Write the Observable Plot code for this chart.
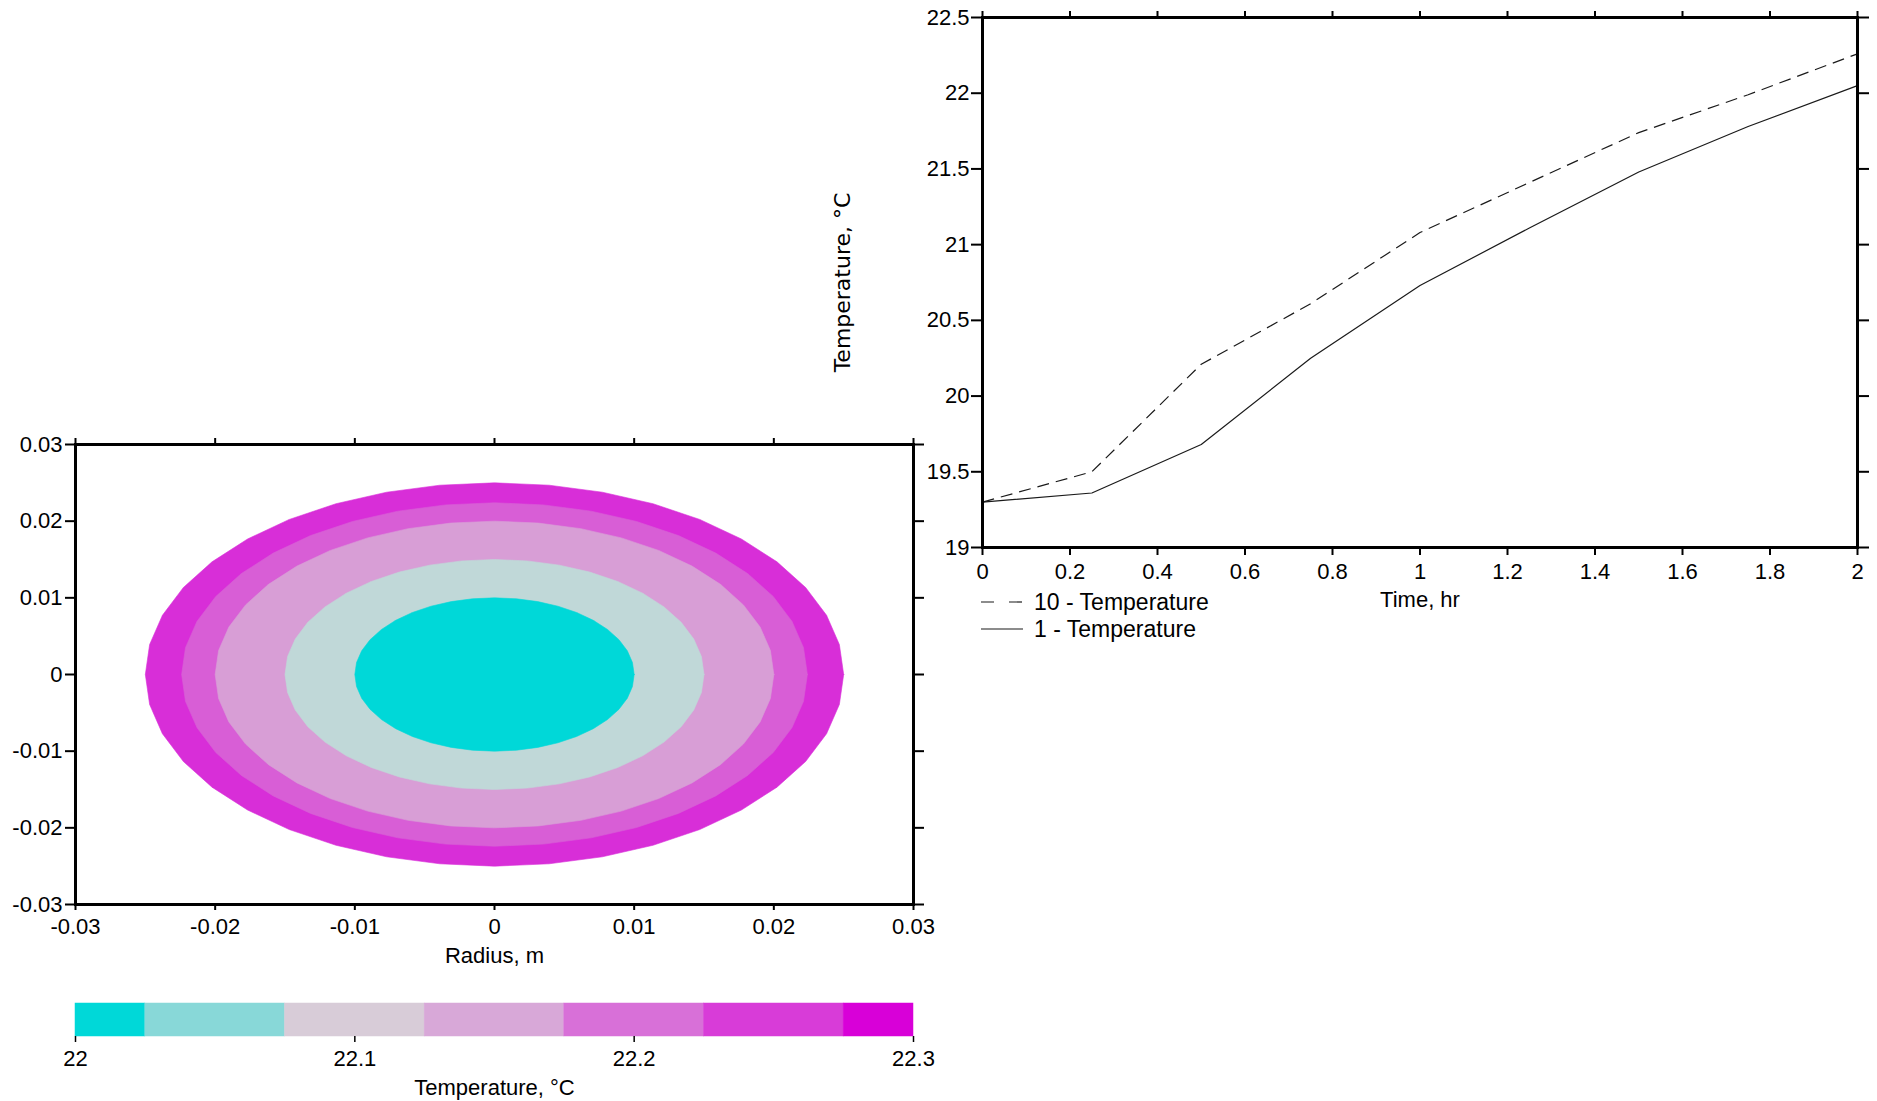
<!DOCTYPE html>
<html><head><meta charset="utf-8">
<script src="https://cdn.jsdelivr.net/npm/d3@7"></script>
<script src="https://cdn.jsdelivr.net/npm/@observablehq/plot@0.6"></script>
<style>
body{margin:0;background:#fff;}
#root{position:relative;width:1877px;height:1101px;overflow:hidden;font-family:"Liberation Sans",Arial,sans-serif;color:#000;}
.leg{position:absolute;display:flex;align-items:center;height:28px;font-size:23px;white-space:nowrap;}
.leg span{margin-left:11px;}
</style></head><body><div id="root"></div>
<script>
// ---------- data ----------
const radiusTicks = [-0.03, -0.02, -0.01, 0, 0.01, 0.02, 0.03];
const ringRadius = [0.025, 0.0224, 0.02, 0.015, 0.01];
const ringColors = ["#d82ed8", "#d85ed6", "#d89ed6", "#c0d8d8", "#00d8d8"];

const legendEdges = [22, 22.025, 22.075, 22.125, 22.175, 22.225, 22.275, 22.3];
const legendColors = ["#00d8d8", "#88d8d8", "#d8ccd8", "#d8a8d8", "#d870d8", "#d83cd8", "#d800d8"];
const legendTicks = [22, 22.1, 22.2, 22.3];

const timeHr = [0, 0.25, 0.5, 0.75, 1, 1.25, 1.5, 1.75, 2];
const temp10 = [19.30, 19.50, 20.21, 20.61, 21.08, 21.41, 21.74, 21.99, 22.26];
const temp1  = [19.30, 19.36, 19.68, 20.25, 20.73, 21.11, 21.48, 21.78, 22.05];
const timeTicks = [0, 0.2, 0.4, 0.6, 0.8, 1, 1.2, 1.4, 1.6, 1.8, 2];
const tempTicks = [19, 19.5, 20, 20.5, 21, 21.5, 22, 22.5];

// ---------- helpers ----------
const FONT = '"Liberation Sans", Arial, sans-serif';
const baseStyle = {fontFamily: FONT, fontSize: "22px", background: "transparent", overflow: "visible", color: "#000"};
const fmt = d => String(+d.toFixed(3));
const blank = () => "";
const SEGS = 40;
const root = document.getElementById("root");
function place(el, left, top) {
  el.style.position = "absolute";
  el.style.left = left + "px";
  el.style.top = top + "px";
  el.style.maxWidth = "none";
  root.appendChild(el);
}

// ---------- left: radial contour ----------
const ringMarks = ringRadius.map((r, i) => {
  const pts = d3.range(SEGS + 1).map(k => {
    const a = 2 * Math.PI * k / SEGS;
    return {x: r * Math.cos(a), y: r * Math.sin(a)};
  });
  return Plot.line(pts, {x: "x", y: "y", fill: ringColors[i], stroke: ringColors[i], strokeWidth: 0.6, curve: "linear-closed"});
});

const contour = Plot.plot({
  width: 940, height: 560,
  marginLeft: 75, marginRight: 27, marginTop: 24, marginBottom: 76,
  x: {domain: [-0.03, 0.03], label: null},
  y: {domain: [-0.03, 0.03], label: null},
  style: baseStyle,
  marks: [
    ...ringMarks,
    Plot.axisX(radiusTicks, {anchor: "bottom", tickSize: 6, tickPadding: 8, tickFormat: fmt, strokeWidth: 2, fontSize: 22, label: null}),
    Plot.axisX(radiusTicks, {anchor: "top", tickSize: 7, tickFormat: blank, strokeWidth: 2, label: null}),
    Plot.axisY(radiusTicks, {anchor: "left", tickSize: 10, tickPadding: 3, tickFormat: fmt, strokeWidth: 2, fontSize: 22, label: null}),
    Plot.axisY(radiusTicks, {anchor: "right", tickSize: 10, tickFormat: blank, strokeWidth: 2, label: null}),
    Plot.frame({stroke: "#000", strokeWidth: 3}),
    Plot.text(["Radius, m"], {text: d => d, frameAnchor: "bottom", dy: 51, lineAnchor: "middle", fontSize: 22})
  ]
});
place(contour, 0, 420);

// ---------- left: colour bar ----------
const bins = legendColors.map((c, i) => ({x1: legendEdges[i], x2: legendEdges[i + 1], c}));
const colorbar = Plot.plot({
  width: 940, height: 111,
  marginLeft: 75, marginRight: 27, marginTop: 13, marginBottom: 65,
  x: {domain: [22, 22.3], label: null},
  style: baseStyle,
  marks: [
    ...bins.map(b => Plot.rect([b], {x1: "x1", x2: "x2", fill: b.c, stroke: b.c, strokeWidth: 0.5})),
    Plot.axisX(legendTicks, {anchor: "bottom", tickSize: 6, tickPadding: 8, tickFormat: fmt, strokeWidth: 1.5, fontSize: 22, label: null}),
    Plot.text(["Temperature, °C"], {text: d => d, frameAnchor: "bottom", dy: 51, lineAnchor: "middle", fontSize: 22})
  ]
});
place(colorbar, 0, 990);

// ---------- right: temperature vs time ----------
const series = timeHr.map((t, i) => ({t, T10: temp10[i], T1: temp1[i]}));
const lineChart = Plot.plot({
  width: 1077, height: 660,
  marginLeft: 182, marginRight: 20, marginTop: 17, marginBottom: 113,
  x: {domain: [0, 2], label: null},
  y: {domain: [19, 22.5], label: null},
  style: baseStyle,
  marks: [
    Plot.line(series, {x: "t", y: "T10", stroke: "#1a1a1a", strokeWidth: 1.2, strokeDasharray: "12,7", strokeLinecap: "butt"}),
    Plot.line(series, {x: "t", y: "T1", stroke: "#1a1a1a", strokeWidth: 1.2}),
    Plot.axisX(timeTicks, {anchor: "bottom", tickSize: 8, tickPadding: 8, tickFormat: fmt, strokeWidth: 2, fontSize: 22, label: null}),
    Plot.axisX(timeTicks, {anchor: "top", tickSize: 7, tickFormat: blank, strokeWidth: 2, label: null}),
    Plot.axisY(tempTicks, {anchor: "left", tickSize: 11, tickPadding: 2, tickFormat: fmt, strokeWidth: 2, fontSize: 22, label: null}),
    Plot.axisY(tempTicks, {anchor: "right", tickSize: 11, tickFormat: blank, strokeWidth: 2, label: null}),
    Plot.frame({stroke: "#000", strokeWidth: 3}),
    Plot.text(["Time, hr"], {text: d => d, frameAnchor: "bottom", dy: 52, lineAnchor: "middle", fontSize: 22}),
    Plot.text(["Temperature, °C"], {text: d => d, frameAnchor: "left", dx: -140, rotate: -90, lineAnchor: "middle", textAnchor: "middle", fontSize: 22, fontFamily: '"DejaVu Sans", sans-serif'})
  ]
});
place(lineChart, 800, 0);

// ---------- right: legend ----------
const legendItems = [
  {label: "10 - Temperature", dash: "13,15", top: 588},
  {label: "1 - Temperature", dash: null, top: 615}
];
legendItems.forEach(it => {
  const row = document.createElement("div");
  row.className = "leg";
  row.style.left = "981px";
  row.style.top = it.top + "px";
  const ns = "http://www.w3.org/2000/svg";
  const svg = document.createElementNS(ns, "svg");
  svg.setAttribute("width", 42); svg.setAttribute("height", 28);
  const ln = document.createElementNS(ns, "line");
  ln.setAttribute("x1", 0); ln.setAttribute("x2", 42);
  ln.setAttribute("y1", 14); ln.setAttribute("y2", 14);
  ln.setAttribute("stroke", "#1a1a1a"); ln.setAttribute("stroke-width", 1.2);
  if (it.dash) ln.setAttribute("stroke-dasharray", it.dash);
  svg.appendChild(ln);
  const sp = document.createElement("span");
  sp.textContent = it.label;
  row.appendChild(svg); row.appendChild(sp);
  root.appendChild(row);
});
</script></body></html>
